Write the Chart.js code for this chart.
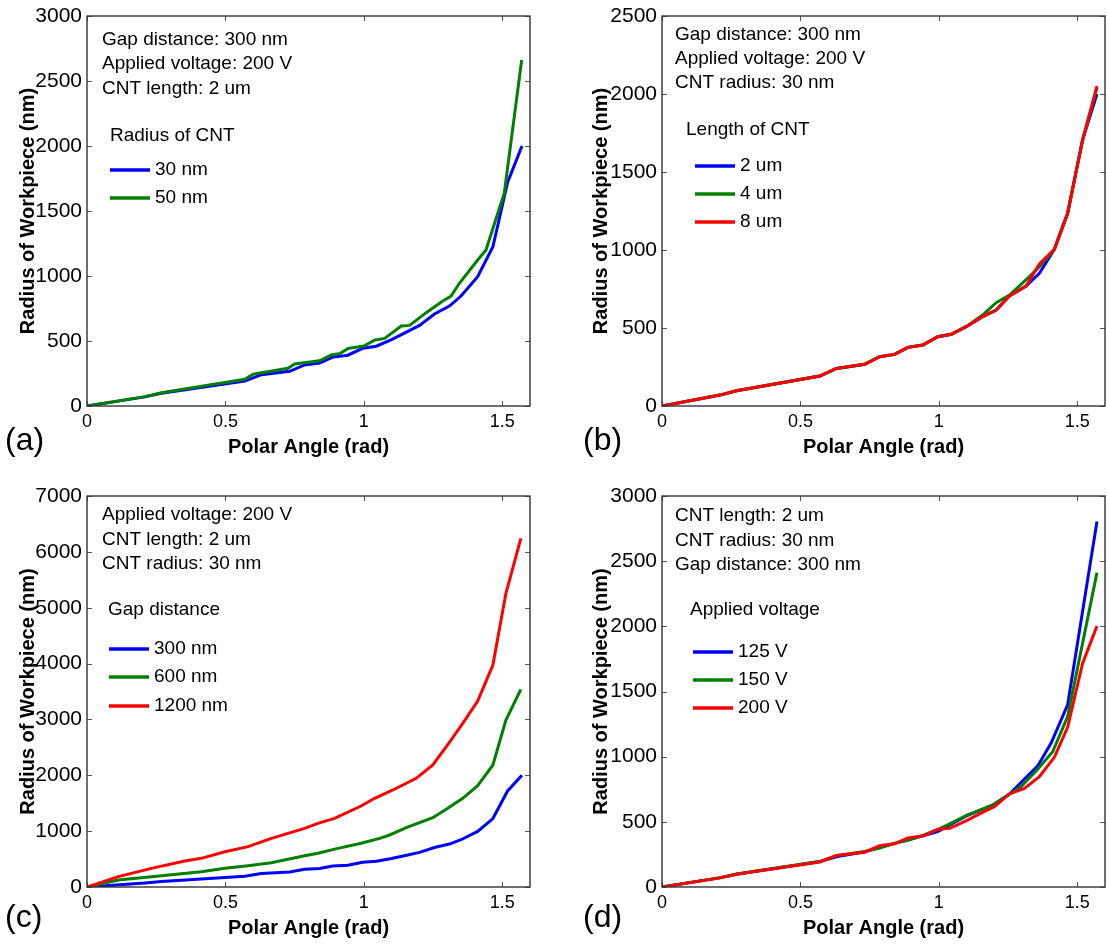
<!DOCTYPE html>
<html>
<head>
<meta charset="utf-8">
<title>Radius of Workpiece vs Polar Angle</title>
<script src="https://cdn.jsdelivr.net/npm/chart.js@4.4.1/dist/chart.umd.min.js"></script>
<style>
  html, body { margin: 0; padding: 0; background: #fff; }
  #fig { position: relative; width: 1107px; height: 945px; overflow: hidden; }
  #fig canvas { position: absolute; }
</style>
</head>
<body>
<div id="fig">
  <canvas id="chartA" width="553" height="470" style="left:0;top:0"></canvas>
  <canvas id="chartB" width="532" height="470" style="left:575px;top:0"></canvas>
  <canvas id="chartC" width="553" height="467" style="left:0;top:478px"></canvas>
  <canvas id="chartD" width="532" height="467" style="left:575px;top:478px"></canvas>
</div>
<script>
// ---- data (polar angle in rad, workpiece radius in nm) ----

// (a) radius of CNT
const angA30 = [0, 0.209, 0.269, 0.570, 0.630, 0.732, 0.786, 0.840, 0.888, 0.942, 0.996, 1.045, 1.100, 1.150, 1.201, 1.255, 1.309, 1.351, 1.411, 1.466, 1.519, 1.571];
const radA30 = [0, 70, 98, 192, 241, 267, 316, 331, 376, 391, 444, 460, 510, 565, 620, 708, 769, 846, 995, 1225, 1720, 2000];
const angA50 = [0, 0.209, 0.269, 0.570, 0.600, 0.726, 0.750, 0.840, 0.882, 0.915, 0.943, 1.000, 1.040, 1.075, 1.135, 1.165, 1.225, 1.285, 1.315, 1.345, 1.411, 1.441, 1.507, 1.570];
const radA50 = [0, 72, 102, 205, 244, 290, 323, 348, 392, 405, 443, 461, 508, 520, 615, 620, 718, 808, 846, 944, 1123, 1200, 1636, 2662];

// (b) length of CNT
const angB2 = [0, 0.209, 0.269, 0.570, 0.630, 0.732, 0.786, 0.840, 0.888, 0.942, 0.996, 1.045, 1.100, 1.153, 1.207, 1.255, 1.315, 1.363, 1.417, 1.465, 1.519, 1.571];
const radB2 = [0, 70, 98, 192, 241, 267, 316, 331, 376, 391, 444, 460, 510, 568, 615, 705, 769, 850, 1004, 1235, 1705, 2000];
const angB4 = [0, 0.209, 0.269, 0.570, 0.630, 0.732, 0.786, 0.840, 0.888, 0.942, 0.996, 1.045, 1.100, 1.158, 1.207, 1.255, 1.327, 1.363, 1.417, 1.465, 1.519, 1.571];
const radB4 = [0, 70, 98, 192, 241, 267, 316, 331, 376, 391, 444, 460, 510, 583, 662, 711, 829, 893, 1004, 1235, 1705, 2040];
const angB8 = [0, 0.209, 0.269, 0.570, 0.630, 0.732, 0.786, 0.840, 0.888, 0.942, 0.996, 1.045, 1.100, 1.153, 1.207, 1.255, 1.315, 1.363, 1.417, 1.465, 1.519, 1.571];
const radB8 = [0, 70, 98, 192, 241, 267, 316, 331, 376, 391, 444, 460, 510, 568, 615, 705, 769, 910, 1004, 1235, 1705, 2051];

// (c) gap distance
const angC300 = [0, 0.209, 0.269, 0.570, 0.630, 0.732, 0.786, 0.840, 0.888, 0.942, 0.996, 1.045, 1.100, 1.150, 1.201, 1.255, 1.309, 1.351, 1.411, 1.466, 1.519, 1.571];
const radC300 = [0, 70, 98, 192, 241, 267, 316, 331, 376, 391, 444, 460, 510, 565, 620, 708, 769, 846, 995, 1225, 1720, 2000];
const angC600 = [0, 0.113, 0.233, 0.413, 0.498, 0.582, 0.666, 0.786, 0.834, 0.906, 0.990, 1.057, 1.093, 1.153, 1.249, 1.303, 1.357, 1.411, 1.466, 1.513, 1.567];
const radC600 = [0, 125, 185, 274, 334, 382, 435, 560, 603, 692, 782, 871, 931, 1062, 1241, 1408, 1588, 1814, 2184, 2990, 3539];
const angC1200 = [0, 0.113, 0.233, 0.353, 0.413, 0.498, 0.582, 0.666, 0.786, 0.834, 0.894, 0.990, 1.039, 1.105, 1.189, 1.249, 1.309, 1.357, 1.411, 1.466, 1.513, 1.567];
const radC1200 = [0, 185, 334, 465, 513, 632, 722, 871, 1050, 1140, 1229, 1450, 1588, 1737, 1946, 2184, 2590, 2930, 3330, 3974, 5258, 6242];

// (d) applied voltage
const angD125 = [0, 0.209, 0.269, 0.570, 0.630, 0.732, 0.786, 0.840, 0.888, 0.942, 0.996, 1.039, 1.100, 1.195, 1.255, 1.357, 1.405, 1.465, 1.571];
const radD125 = [0, 70, 98, 195, 232, 270, 305, 335, 362, 392, 425, 476, 545, 629, 714, 929, 1103, 1397, 2804];
const angD150 = [0, 0.209, 0.269, 0.570, 0.630, 0.732, 0.786, 0.840, 0.888, 0.942, 0.996, 1.039, 1.100, 1.195, 1.297, 1.357, 1.411, 1.465, 1.571];
const radD150 = [0, 72, 100, 195, 240, 272, 298, 335, 358, 395, 440, 484, 550, 629, 770, 903, 1038, 1307, 2412];
const angD200 = [0, 0.209, 0.269, 0.570, 0.630, 0.732, 0.786, 0.840, 0.888, 0.942, 0.996, 1.039, 1.100, 1.150, 1.200, 1.255, 1.309, 1.363, 1.417, 1.465, 1.519, 1.571];
const radD200 = [0, 70, 98, 192, 241, 267, 316, 331, 376, 391, 444, 450, 510, 565, 616, 714, 757, 846, 995, 1225, 1716, 2003];

// axis ranges / tick steps
const xTicks = [0, 0.5, 1, 1.5];
const yMaxA = 3000, yMaxB = 2500, yMaxC = 7000, yMaxD = 3000;
const yStepA = 500, yStepB = 500, yStepC = 1000, yStepD = 500;

// texts
const notesA = ["Gap distance: 300 nm", "Applied voltage: 200 V", "CNT length: 2 um"];
const notesB = ["Gap distance: 300 nm", "Applied voltage: 200 V", "CNT radius: 30 nm"];
const notesC = ["Applied voltage: 200 V", "CNT length: 2 um", "CNT radius: 30 nm"];
const notesD = ["CNT length: 2 um", "CNT radius: 30 nm", "Gap distance: 300 nm"];
const labelsA = ["30 nm", "50 nm"];
const labelsB = ["2 um", "4 um", "8 um"];
const labelsC = ["300 nm", "600 nm", "1200 nm"];
const labelsD = ["125 V", "150 V", "200 V"];

const BLUE = "#0000ff", GREEN = "#008000", RED = "#ff0000";
const FONT = "'Liberation Sans', Arial, Helvetica, sans-serif";

const pts = (ang, rad) => ang.map((a, i) => ({ x: a, y: rad[i] }));

// frame with inward ticks on all sides, in-plot notes, legend and panel letter
const frame = {
    id: "frame",
    afterDatasetsDraw(chart, args, o) {
        const { ctx, chartArea: a, scales: { x, y } } = chart;
        ctx.save();
        ctx.strokeStyle = "#555";
        ctx.lineWidth = 1;
        ctx.beginPath();
        x.ticks.forEach(t => {
            const px = Math.round(x.getPixelForValue(t.value)) + 0.5;
            ctx.moveTo(px, a.bottom); ctx.lineTo(px, a.bottom - 5);
            ctx.moveTo(px, a.top); ctx.lineTo(px, a.top + 5);
        });
        y.ticks.forEach(t => {
            const py = Math.round(y.getPixelForValue(t.value)) + 0.5;
            ctx.moveTo(a.left, py); ctx.lineTo(a.left + 5, py);
            ctx.moveTo(a.right, py); ctx.lineTo(a.right - 5, py);
        });
        ctx.stroke();
        ctx.strokeStyle = "#333";
        ctx.lineWidth = 1.4;
        ctx.strokeRect(a.left, a.top, a.right - a.left, a.bottom - a.top);

        ctx.fillStyle = "#000";
        ctx.textBaseline = "middle";
        ctx.textAlign = "left";
        ctx.font = "19px " + FONT;
        o.notes.forEach((s, i) => ctx.fillText(s, a.left + o.noteX, a.top + o.noteY[i]));
        ctx.fillText(o.legendTitle, a.left + o.titleX, a.top + o.titleY);
        chart.data.datasets.forEach((ds, i) => {
            const ly = a.top + o.lineY[i];
            ctx.strokeStyle = ds.borderColor;
            ctx.lineWidth = 3.5;
            ctx.beginPath();
            ctx.moveTo(a.left + o.lineX[0], ly);
            ctx.lineTo(a.left + o.lineX[1], ly);
            ctx.stroke();
            ctx.fillText(ds.label, a.left + o.lineX[1] + 5, ly);
        });
        ctx.font = "32px " + FONT;
        ctx.fillText(o.letter, o.letterX, o.letterY);
        ctx.restore();
    }
};

function makePanel(id, series, yMax, yStep, pad, yTitlePad, frameOpts) {
    return new Chart(document.getElementById(id), {
        type: "line",
        data: {
            datasets: series.map((s, i) => ({
                label: s.label,
                data: s.data,
                borderColor: s.color,
                borderWidth: 3,
                pointRadius: 0,
                tension: 0,
                fill: false,
                order: series.length - i
            }))
        },
        options: {
            responsive: false,
            animation: false,
            devicePixelRatio: 1,
            layout: { padding: pad },
            plugins: { legend: { display: false }, tooltip: { enabled: false }, frame: frameOpts },
            scales: {
                x: {
                    type: "linear",
                    min: 0, max: 1.6,
                    afterBuildTicks: s => { s.ticks = xTicks.map(v => ({ value: v })); },
                    afterFit: s => { s.height = 56; },
                    grid: { display: false, drawTicks: false },
                    border: { display: false },
                    ticks: { color: "#000", padding: 5, font: { family: FONT, size: 18 }, callback: v => String(v) },
                    title: { display: true, text: "Polar Angle (rad)", color: "#000", padding: { top: 0, bottom: 3 },
                             font: { family: FONT, size: 20, weight: "bold" } }
                },
                y: {
                    min: 0, max: yMax,
                    ticks: { stepSize: yStep, color: "#000", padding: 5, font: { family: FONT, size: 21, lineHeight: 1 }, callback: v => String(v) },
                    afterFit: s => { s.width = 87; },
                    grid: { display: false, drawTicks: false },
                    border: { display: false },
                    title: { display: true, text: "Radius of Workpiece (nm)", color: "#000", padding: { top: yTitlePad, bottom: 0 },
                             font: { family: FONT, size: 20, weight: "bold" } }
                }
            }
        },
        plugins: [frame]
    });
}

makePanel("chartA", [
    { label: labelsA[0], data: pts(angA30, radA30), color: BLUE },
    { label: labelsA[1], data: pts(angA50, radA50), color: GREEN }
], yMaxA, yStepA, { left: 0, top: 16, right: 23, bottom: 8 }, 16, {
    notes: notesA, noteX: 15, noteY: [24, 48, 73],
    legendTitle: "Radius of CNT", titleX: 23, titleY: 120,
    lineX: [23, 63], lineY: [154, 182],
    letter: "(a)", letterX: 5, letterY: 441
});

makePanel("chartB", [
    { label: labelsB[0], data: pts(angB2, radB2), color: BLUE },
    { label: labelsB[1], data: pts(angB4, radB4), color: GREEN },
    { label: labelsB[2], data: pts(angB8, radB8), color: RED }
], yMaxB, yStepB, { left: 0, top: 16, right: 2, bottom: 8 }, 14, {
    notes: notesB, noteX: 13, noteY: [19, 43, 67],
    legendTitle: "Length of CNT", titleX: 24, titleY: 114,
    lineX: [33, 73], lineY: [150, 178, 206],
    letter: "(b)", letterX: 8, letterY: 441
});

makePanel("chartC", [
    { label: labelsC[0], data: pts(angC300, radC300), color: BLUE },
    { label: labelsC[1], data: pts(angC600, radC600), color: GREEN },
    { label: labelsC[2], data: pts(angC1200, radC1200), color: RED }
], yMaxC, yStepC, { left: 0, top: 18, right: 23, bottom: 2 }, 16, {
    notes: notesC, noteX: 15, noteY: [19, 44, 68],
    legendTitle: "Gap distance", titleX: 21, titleY: 114,
    lineX: [22, 62], lineY: [153, 181, 210],
    letter: "(c)", letterX: 5, letterY: 440
});

makePanel("chartD", [
    { label: labelsD[0], data: pts(angD125, radD125), color: BLUE },
    { label: labelsD[1], data: pts(angD150, radD150), color: GREEN },
    { label: labelsD[2], data: pts(angD200, radD200), color: RED }
], yMaxD, yStepD, { left: 0, top: 18, right: 2, bottom: 2 }, 14, {
    notes: notesD, noteX: 13, noteY: [20, 45, 69],
    legendTitle: "Applied voltage", titleX: 28, titleY: 114,
    lineX: [31, 71], lineY: [156, 184, 212],
    letter: "(d)", letterX: 8, letterY: 440
});
</script>
</body>
</html>
